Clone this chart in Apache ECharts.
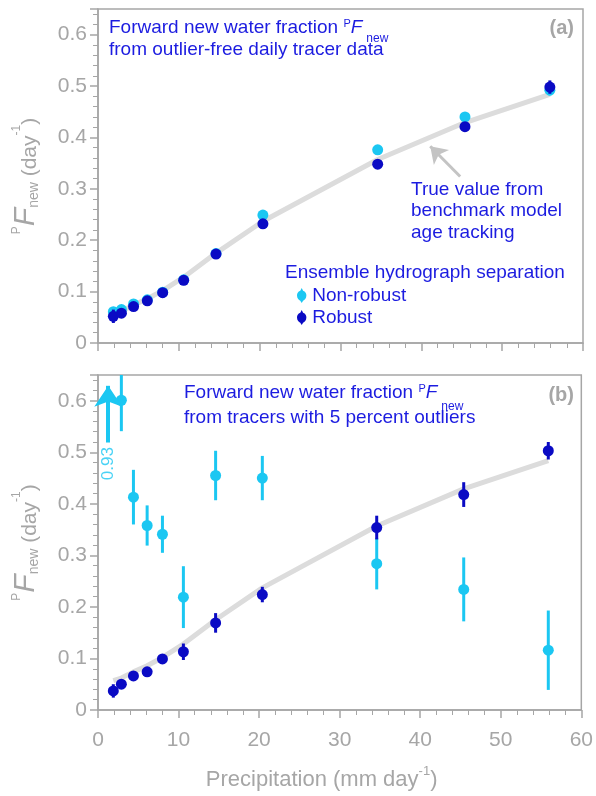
<!DOCTYPE html>
<html>
<head>
<meta charset="utf-8">
<script src="https://cdn.jsdelivr.net/npm/echarts@6/dist/echarts.min.js"></script>
<style>
    html, body { margin: 0; padding: 0; background: #fff; }
    #box1 { width: 596px; height: 796px; }
</style>
</head>
<body>
<div id="box1"></div>
<script>
// ▼数据 (precipitation, mm/day)
const precip = [1.9, 2.9, 4.4, 6.1, 8.0, 10.6, 14.6, 20.4, 34.6, 45.4, 55.9];
const trueFnew = [0.057, 0.062, 0.074, 0.086, 0.102, 0.128, 0.175, 0.237, 0.357, 0.429, 0.484];

// (a) outlier-free
const aNonRobust    = [0.061, 0.065, 0.076, 0.084, 0.099, 0.123, 0.174, 0.249, 0.376, 0.440, 0.492];
const aNonRobustErr = [0.009, 0.008, 0.007, 0.007, 0.007, 0.007, 0.007, 0.009, 0.009, 0.009, 0.010];
const aRobust       = [0.052, 0.058, 0.071, 0.082, 0.098, 0.122, 0.173, 0.232, 0.348, 0.421, 0.498];
const aRobustErr    = [0.013, 0.008, 0.007, 0.007, 0.007, 0.007, 0.007, 0.008, 0.008, 0.009, 0.013];

// (b) 5 percent outliers
const bNonRobust    = [0.93, 0.601, 0.413, 0.358, 0.341, 0.219, 0.455, 0.450, 0.284, 0.234, 0.116];
const bNonRobustErr = [0.06, 0.060, 0.053, 0.039, 0.036, 0.060, 0.048, 0.043, 0.050, 0.062, 0.077];
const bRobust       = [0.037, 0.050, 0.066, 0.074, 0.099, 0.113, 0.169, 0.224, 0.354, 0.418, 0.503];
const bRobustErr    = [0.013, 0.008, 0.007, 0.007, 0.008, 0.016, 0.019, 0.015, 0.023, 0.024, 0.017];

// off-scale marker for the 0.93 point
const offScaleX = 1.27;
const offScaleArrow = [0.519, 0.629];
const offScaleLabelY = 0.478;
const offScaleText = '0.93';

// gray pointer to the true-value line in (a)
const pointerFrom = [44.8, 0.324];
const pointerTo = [41.1, 0.383];

const xTicks = { min: 0, max: 60, interval: 10 };
const yTicks = { min: 0, max: 0.65, interval: 0.1 };

const cDark = '#0a0ac4';
const cLight = '#1bc7f2';
const cText = '#1c1ce0';
const cGray = '#a6a6a6';
const cLine = '#dcdcdc';
const sFont = '"Liberation Sans", Arial, sans-serif';

function toPairs(aY){
    return precip.map((x, i) => [x, aY[i]]);
}
function toErr(aY, aE){
    return precip.map((x, i) => [x, aY[i], aE[i]]);
}

function renderErr(params, api){
    const x = api.value(0), y = api.value(1), e = api.value(2);
    const p1 = api.coord([x, y - e]);
    const p2 = api.coord([x, y + e]);
    return {
        type: 'line',
        shape: { x1: p1[0], y1: p1[1], x2: p2[0], y2: p2[1] },
        style: { stroke: api.visual('color'), lineWidth: 3 },
    };
}

function makeXAxis(iGrid, bLabels){
    return {
        type: 'value', gridIndex: iGrid, ...xTicks,
        axisLine: { show: true, onZero: false, lineStyle: { color: cGray, width: 1.5 } },
        axisTick: { show: true, inside: false, length: 8, lineStyle: { color: cGray, width: 1.5 } },
        minorTick: { show: true, splitNumber: 5, length: 5, lineStyle: { color: cGray, width: 1 } },
        splitLine: { show: false },
        axisLabel: { show: bLabels, color: cGray, fontSize: 21, margin: 20, fontFamily: sFont },
        name: bLabels ? '{a|Precipitation (mm day}{s|-1}{a|)}' : '',
        nameLocation: 'middle',
        nameGap: 55,
        nameTextStyle: {
            color: cGray, fontFamily: sFont, padding: [0, 36, 0, 0],
            rich: {
                a: { fontSize: 22, lineHeight: 26, verticalAlign: 'bottom', color: cGray, fontFamily: sFont },
                s: { fontSize: 13, lineHeight: 8, verticalAlign: 'top', color: cGray, fontFamily: sFont },
            },
        },
    };
}

function makeYAxis(iGrid){
    return {
        type: 'value', gridIndex: iGrid, ...yTicks,
        axisLine: { show: true, onZero: false, lineStyle: { color: cGray, width: 1.5 } },
        axisTick: { show: true, inside: false, length: 8, lineStyle: { color: cGray, width: 1.5 } },
        minorTick: { show: true, splitNumber: 5, length: 5, lineStyle: { color: cGray, width: 1 } },
        splitLine: { show: false },
        axisLabel: { color: cGray, fontSize: 21, margin: 11, fontFamily: sFont, showMaxLabel: false },
        name: '{p|P}{f|F}{n|new}{a| (day}{s|-1}{a|)}',
        nameLocation: 'middle',
        nameGap: 57,
        nameTextStyle: {
            color: cGray, fontFamily: sFont,
            rich: {
                p: { fontSize: 12, lineHeight: 12, verticalAlign: 'top', color: cGray, fontFamily: sFont },
                f: { fontSize: 30, lineHeight: 30, fontStyle: 'italic', verticalAlign: 'bottom', color: cGray, fontFamily: sFont },
                n: { fontSize: 14, lineHeight: 19, verticalAlign: 'bottom', color: cGray, fontFamily: sFont },
                a: { fontSize: 21, lineHeight: 24, verticalAlign: 'bottom', color: cGray, fontFamily: sFont },
                s: { fontSize: 12, lineHeight: 12, verticalAlign: 'top', color: cGray, fontFamily: sFont },
            },
        },
    };
}

function panelSeries(iGrid, aLight, aLightErr, aDark, aDarkErr){
    const oBase = { xAxisIndex: iGrid, yAxisIndex: iGrid };
    return [
        { ...oBase, name: 'True value', type: 'line', data: toPairs(trueFnew), showSymbol: false,
          lineStyle: { color: cLine, width: 5 }, itemStyle: { color: cLine }, silent: true, z: 1 },
        { ...oBase, name: 'errNonRobust', type: 'custom', renderItem: renderErr, clip: true,
          data: toErr(aLight, aLightErr), itemStyle: { color: cLight }, z: 2 },
        { ...oBase, name: 'Non-robust', type: 'scatter', data: toPairs(aLight), symbol: 'circle', symbolSize: 11,
          itemStyle: { color: cLight, opacity: 1 }, clip: true, z: 2 },
        { ...oBase, name: 'errRobust', type: 'custom', renderItem: renderErr, clip: true,
          data: toErr(aDark, aDarkErr), itemStyle: { color: cDark }, z: 3 },
        { ...oBase, name: 'Robust', type: 'scatter', data: toPairs(aDark), symbol: 'circle', symbolSize: 11,
          itemStyle: { color: cDark, opacity: 1 }, clip: true, z: 3 },
    ];
}

function blueRich(iSubPad){
    return {
        a: { fontSize: 19, lineHeight: 24, verticalAlign: 'top', fill: cText, fontFamily: sFont },
        p: { fontSize: 11, lineHeight: 10, verticalAlign: 'top', fill: cText, fontFamily: sFont },
        f: { fontSize: 19, lineHeight: 24, verticalAlign: 'top', fontStyle: 'italic', fill: cText, fontFamily: sFont },
        n: { fontSize: 12, lineHeight: 12, verticalAlign: 'top', fill: cText, fontFamily: sFont, padding: [iSubPad, 0, 0, 4] },
    };
}

function txt(x, y, text, extra){
    return {
        type: 'text', x, y, silent: true,
        style: Object.assign({ text, fill: cText, fontSize: 19, fontFamily: sFont, verticalAlign: 'top', rich: blueRich(15) }, extra || {}),
    };
}

const series = [
    ...panelSeries(0, aNonRobust, aNonRobustErr, aRobust, aRobustErr),
    ...panelSeries(1, bNonRobust, bNonRobustErr, bRobust, bRobustErr),
];
// pointer arrow in (a)
series[0].markLine = {
    silent: true, symbol: ['none', 'arrow'], symbolSize: 16, animation: false,
    lineStyle: { color: '#c4c4c4', width: 3, type: 'solid' },
    label: { show: false },
    data: [[{ coord: pointerFrom }, { coord: pointerTo }]],
};
// off-scale arrow in (b)
series[7].markLine = {
    silent: true, symbol: ['none', 'arrow'], symbolSize: 21, animation: false,
    lineStyle: { color: cLight, width: 4, type: 'solid' },
    label: { show: false },
    data: [[{ coord: [offScaleX, offScaleArrow[0]] }, { coord: [offScaleX, offScaleArrow[1]] }]],
};
series.push({
    name: 'offScaleLabel', type: 'scatter', xAxisIndex: 1, yAxisIndex: 1, symbolSize: 0, silent: true,
    data: [[offScaleX, offScaleLabelY]],
    label: { show: true, position: 'inside', rotate: 90, formatter: offScaleText, color: cLight, fontSize: 17, fontFamily: sFont },
});

const option = {
    animation: false,
    textStyle: { fontFamily: sFont },
    grid: [
        { left: 98, top: 9, width: 485, height: 334, show: true, borderColor: cGray, borderWidth: 1.5 },
        { left: 98, top: 375, width: 485, height: 335, show: true, borderColor: cGray, borderWidth: 1.5 },
    ],
    xAxis: [makeXAxis(0, false), makeXAxis(1, true)],
    yAxis: [makeYAxis(0), makeYAxis(1)],
    legend: {
        data: ['Non-robust', 'Robust'],
        orient: 'vertical', left: 292, top: 281,
        itemWidth: 11, itemHeight: 15, itemGap: 3,
        icon: 'path://M5,0 L6.5,3 C9,4 10,6 10,8 C10,11 8,13 6.5,13.5 L5,16 L3.5,13.5 C2,13 0,11 0,8 C0,6 1,4 3.5,3 Z',
        textStyle: { color: cText, fontSize: 19, fontFamily: sFont },
        selectedMode: false,
    },
    graphic: [
        txt(109, 18, '{a|Forward new water fraction }{p|P}{f|F}{n|new}'),
        txt(109, 40.5, '{a|from outlier-free daily tracer data}'),
        txt(184, 383, '{a|Forward new water fraction }{p|P}{f|F}{n|new}', { rich: blueRich(18) }),
        txt(184, 408, '{a|from tracers with 5 percent outliers}'),
        txt(411, 179, 'True value from\nbenchmark model\nage tracking', { rich: null, lineHeight: 21.5 }),
        txt(285, 263, '{a|Ensemble hydrograph separation}'),
        { type: 'text', x: 574, y: 28.5, silent: true,
          style: { text: '(a)', fill: cGray, fontSize: 20, fontWeight: 'bold', fontFamily: sFont, align: 'right', verticalAlign: 'middle' } },
        { type: 'text', x: 574, y: 395, silent: true,
          style: { text: '(b)', fill: cGray, fontSize: 20, fontWeight: 'bold', fontFamily: sFont, align: 'right', verticalAlign: 'middle' } },
    ],
    series,
};

const myChart = echarts.init(document.getElementById('box1'), null, { renderer: 'canvas' });
myChart.setOption(option);
</script>
</body>
</html>
